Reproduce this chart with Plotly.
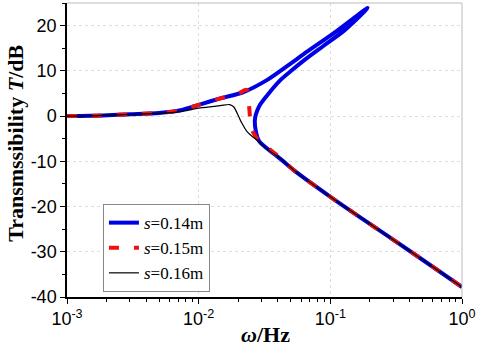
import plotly.graph_objects as go

# s = 0.14 m  (fold: upper branch out, inner branch back, then lower branch)
w_s14 = [0.001, 0.0015, 0.003, 0.005, 0.0073, 0.0103, 0.0146, 0.0219, 0.0332, 0.0499, 0.0627, 0.113, 0.192,
         0.1285, 0.0895, 0.0631, 0.0499, 0.0419, 0.0332, 0.0286, 0.0267, 0.0286, 0.0372, 0.0431, 0.053,
         0.1007, 0.181, 0.409, 1.0]
T_s14 = [0.0, 0.05, 0.4, 0.7, 1.3, 2.6, 3.9, 5.3, 8.0, 11.6, 13.7, 18.9, 23.9,
         19.0, 15.6, 12.3, 9.9, 8.0, 4.6, 2.0, -1.0, -5.4, -8.3, -9.8, -12.0,
         -17.9, -23.0, -30.0, -37.8]

# s = 0.15 m
w_s15 = [0.001, 0.0015, 0.003, 0.005, 0.0073, 0.0103, 0.0146, 0.0200, 0.0231, 0.0240, 0.0252, 0.0275,
         0.0322, 0.0419, 0.053, 0.1007, 0.181, 0.409, 1.0]
T_s15 = [0.0, 0.05, 0.4, 0.7, 1.3, 2.6, 3.9, 5.0, 5.8, 3.0, -2.7, -4.8,
         -6.6, -9.3, -12.0, -17.9, -23.0, -30.0, -37.8]

# s = 0.16 m
w_s16 = [0.001, 0.0015, 0.003, 0.005, 0.0073, 0.0103, 0.0146, 0.0172, 0.0185, 0.0208, 0.0234, 0.0279,
         0.0332, 0.0419, 0.053, 0.1007, 0.181, 0.409, 1.0]
T_s16 = [0.0, 0.05, 0.35, 0.6, 1.0, 1.8, 2.3, 2.55, 2.0, -1.0, -3.5, -5.4,
         -7.3, -9.4, -12.0, -17.9, -23.0, -30.0, -37.8]

series_names = ["<i>s</i>=0.14m", "<i>s</i>=0.15m", "<i>s</i>=0.16m"]

x_tickvals = [0.001, 0.01, 0.1, 1]
x_ticktext = ["10<sup>-3</sup>", "10<sup>-2</sup>", "10<sup>-1</sup>", "10<sup>0</sup>"]
x_minor_vals = [m * d for d in (0.001, 0.01, 0.1) for m in range(2, 10)]
y_tickvals = [-40, -30, -20, -10, 0, 10, 20]
y_ticktext = ["-40", "-30", "-20", "-10", "0", "10", "20"]

fig = go.Figure()
fig.add_trace(go.Scatter(x=w_s14, y=T_s14, mode="lines", name=series_names[0],
                         line=dict(color="#0000e6", width=4, shape="spline", smoothing=0.8)))
fig.add_trace(go.Scatter(x=w_s15, y=T_s15, mode="lines", name=series_names[1],
                         line=dict(color="#ee1111", width=4, dash="10px,15px", shape="spline", smoothing=0.8)))
fig.add_trace(go.Scatter(x=w_s16, y=T_s16, mode="lines", name=series_names[2],
                         line=dict(color="black", width=1.2, shape="spline", smoothing=0.8)))

tickfont = dict(family="Arial, Liberation Sans, sans-serif", size=18, color="black")

fig.update_xaxes(type="log", range=[-3, 0], tickvals=x_tickvals, ticktext=x_ticktext,
                 showline=True, linecolor="black", linewidth=1.5,
                 ticks="outside", ticklen=5, tickwidth=1, tickcolor="black",
                 showgrid=True, gridcolor="#dddddd", griddash="dot", gridwidth=1,
                 zeroline=False, tickfont=tickfont,
                 minor=dict(tickvals=x_minor_vals, ticks="outside", ticklen=3, tickcolor="black",
                            showgrid=False))
fig.update_yaxes(range=[-40, 25], tickvals=y_tickvals, ticktext=y_ticktext,
                 showline=True, linecolor="black", linewidth=1.5,
                 ticks="outside", ticklen=5, tickwidth=1, tickcolor="black",
                 showgrid=True, gridcolor="#dddddd", griddash="dot", gridwidth=1,
                 zeroline=False, tickfont=tickfont,
                 minor=dict(dtick=5, ticks="outside", ticklen=3, tickcolor="black", showgrid=False))

# light gray top/right frame
fig.add_shape(type="line", xref="paper", yref="paper", x0=0, x1=1, y0=1, y1=1,
              line=dict(color="#bbbbbb", width=1))
fig.add_shape(type="line", xref="paper", yref="paper", x0=1, x1=1, y0=0, y1=1,
              line=dict(color="#bbbbbb", width=1))

titlefont = dict(family="Times New Roman, Liberation Serif, serif", size=22, color="black")
fig.add_annotation(text="<b>Transmssibility <i>T</i>/dB</b>", xref="paper", yref="paper",
                   x=-0.129, y=0.521, textangle=-90, showarrow=False, font=titlefont,
                   xanchor="center", yanchor="middle")
fig.add_annotation(text="<b><i>ω</i>/Hz</b>", xref="paper", yref="paper",
                   x=0.502, y=-0.129, showarrow=False, font=titlefont,
                   xanchor="center", yanchor="middle")

fig.update_layout(
    width=483, height=350,
    margin=dict(l=67, r=21, t=3, b=53),
    plot_bgcolor="white", paper_bgcolor="white",
    showlegend=True,
    legend=dict(x=0.091, y=0.316, xanchor="left", yanchor="top",
                bgcolor="white", bordercolor="#888888", borderwidth=1,
                font=dict(family="Times New Roman, Liberation Serif, serif", size=17, color="black"),
                tracegroupgap=0, itemwidth=30),
)

fig.write_html("out.html")
